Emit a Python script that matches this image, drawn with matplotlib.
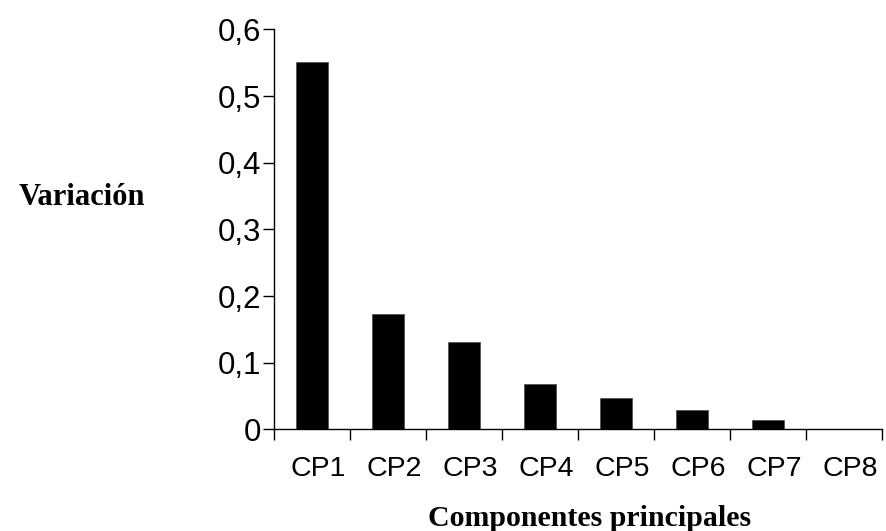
import numpy as np
import matplotlib.pyplot as plt
from matplotlib.transforms import ScaledTranslation

componentes = ["CP1", "CP2", "CP3", "CP4", "CP5", "CP6", "CP7", "CP8"]
variacion = [0.551, 0.173, 0.131, 0.068, 0.047, 0.029, 0.0135, 0.0]
yticks = [0, 0.1, 0.2, 0.3, 0.4, 0.5, 0.6]
ytick_labels = ["0", "0,1", "0,2", "0,3", "0,4", "0,5", "0,6"]

fig = plt.figure(figsize=(8.86, 5.31), dpi=100)
ax = fig.add_axes([0.309, 0.1915, 0.6865, 0.753])

x = np.arange(len(componentes))
ax.bar(x, variacion, width=0.42, color="black", edgecolor="#555555", linewidth=0.6)

ax.set_xlim(-0.5, len(componentes) - 0.5)
ax.set_ylim(0, 0.6)

ax.set_yticks(yticks)
ax.set_yticklabels(ytick_labels, fontfamily="Liberation Sans", fontsize=22.5)
ax.tick_params(axis="y", direction="out", length=8, width=1, pad=1)

# labels at bar centres, tick marks on the category boundaries
ax.set_xticks(x)
ax.set_xticklabels(componentes, fontfamily="Liberation Sans", fontsize=20.5)
ax.tick_params(axis="x", which="major", length=0, pad=19)
ax.set_xticks(np.arange(len(componentes) + 1) - 0.5, minor=True)
ax.tick_params(axis="x", which="minor", direction="out", length=8, width=1)
shift = ScaledTranslation(6 / 100, 0, fig.dpi_scale_trans)
for lab in ax.get_xticklabels():
    lab.set_transform(lab.get_transform() + shift)

for s in ["top", "right"]:
    ax.spines[s].set_visible(False)
ax.spines["left"].set_linewidth(1)
ax.spines["bottom"].set_linewidth(1)

fig.text(0.1637, 0.614, "Variación", fontfamily="Liberation Serif", fontweight="bold",
         fontsize=22, ha="right", va="baseline")
fig.text(0.665, 0.0085, "Componentes principales", fontfamily="Liberation Serif",
         fontweight="bold", fontsize=21.5, ha="center", va="baseline")

fig.savefig("out.png", dpi=100)
